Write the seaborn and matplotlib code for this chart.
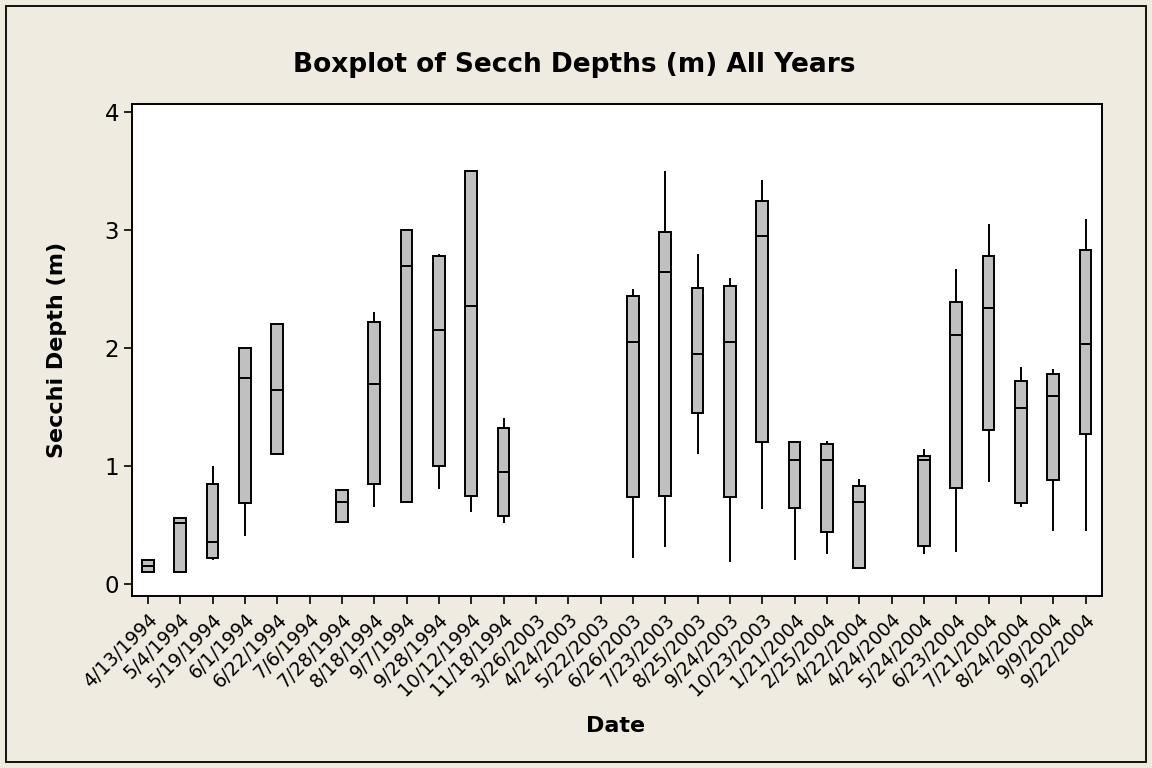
import numpy as np
import pandas as pd
import matplotlib
matplotlib.use("Agg")
import matplotlib.pyplot as plt
import seaborn as sns

# Secchi depth summaries (None = no data that day)
dates = ["4/13/1994", "5/4/1994", "5/19/1994", "6/1/1994", "6/22/1994", "7/6/1994",
         "7/28/1994", "8/18/1994", "9/7/1994", "9/28/1994", "10/12/1994", "11/18/1994",
         "3/26/2003", "4/24/2003", "5/22/2003", "6/26/2003", "7/23/2003", "8/25/2003",
         "9/24/2003", "10/23/2003", "1/21/2004", "2/25/2004", "4/22/2004", "4/24/2004",
         "5/24/2004", "6/23/2004", "7/21/2004", "8/24/2004", "9/9/2004", "9/22/2004"]
lo = [0.10, 0.10, 0.20, 0.40, 1.10, None, 0.51, 0.65, 0.69, 0.80, 0.61, 0.51,
      None, None, None, 0.22, 0.31, 1.10, 0.18, 0.63, 0.20, 0.25, 0.13, None,
      0.25, 0.27, 0.86, 0.65, 0.45, 0.45]
q1 = [0.10, 0.10, 0.215, 0.68, 1.10, None, 0.52, 0.845, 0.69, 1.00, 0.74, 0.57,
      None, None, None, 0.73, 0.74, 1.45, 0.73, 1.20, 0.645, 0.44, 0.13, None,
      0.32, 0.81, 1.30, 0.68, 0.88, 1.27]
med = [0.15, 0.51, 0.35, 1.74, 1.64, None, 0.69, 1.69, 2.69, 2.15, 2.35, 0.95,
       None, None, None, 2.05, 2.64, 1.945, 2.05, 2.95, 1.05, 1.05, 0.69, None,
       1.05, 2.11, 2.34, 1.49, 1.59, 2.03]
q3 = [0.20, 0.56, 0.845, 2.00, 2.20, None, 0.79, 2.22, 3.00, 2.78, 3.50, 1.32,
      None, None, None, 2.44, 2.98, 2.505, 2.52, 3.24, 1.20, 1.18, 0.825, None,
      1.08, 2.39, 2.78, 1.72, 1.775, 2.83]
hi = [0.20, 0.56, 1.00, 2.00, 2.20, None, 0.80, 2.30, 3.00, 2.79, 3.50, 1.40,
      None, None, None, 2.50, 3.50, 2.79, 2.59, 3.42, 1.20, 1.21, 0.89, None,
      1.145, 2.67, 3.05, 1.84, 1.82, 3.09]

# five points per date give exactly these quartiles/extremes
rows = []
for d, a, b, c, e, f in zip(dates, lo, q1, med, q3, hi):
    if a is None:
        continue
    for v in (a, b, c, e, f):
        rows.append({"date": d, "depth": v})
df = pd.DataFrame(rows)

bg = "#EFEBE1"
sns.set_style("ticks")
plt.rcParams["font.family"] = ["DejaVu Sans"]
plt.rcParams.update({"text.color": "black", "axes.labelcolor": "black",
                     "xtick.color": "black", "ytick.color": "black"})

fig = plt.figure(figsize=(11.52, 7.68), dpi=100, facecolor=bg)
ax = fig.add_axes([131.7 / 1152, 1 - 596 / 768, (1101.7 - 131.7) / 1152, (596 - 104) / 768])
ax.set_facecolor("white")

sns.boxplot(data=df, x="date", y="depth", order=dates, ax=ax, width=0.36,
            color="#C0C0C0", saturation=1, linecolor="black", linewidth=1.4,
            whis=(0, 100), showcaps=False, fliersize=0)

ax.set_xlim(-0.5, len(dates) - 0.5)
ax.set_ylim(-0.105, 4.065)
ax.set_yticks([0, 1, 2, 3, 4])
ax.set_xlabel("")
ax.set_ylabel("")
for s in ax.spines.values():
    s.set_linewidth(1.4)
    s.set_color("black")
ax.tick_params(axis="both", direction="out", length=6, width=1.2, color="black")
ax.tick_params(axis="y", labelsize=16.5, pad=3)
ax.tick_params(axis="x", labelsize=13.5, pad=4)
plt.setp(ax.get_xticklabels(), rotation=45, ha="right", rotation_mode="anchor")

fig.text(0.4987, 1 - 72 / 768, "Boxplot of Secch Depths (m) All Years",
         ha="center", va="baseline", fontsize=19, fontweight="bold")
fig.text(57 / 1152, 1 - 350 / 768, "Secchi Depth (m)", rotation=90,
         ha="center", va="center", fontsize=16, fontweight="bold")
fig.text(616 / 1152, 1 - 726 / 768, "Date", ha="center", va="center",
         fontsize=16, fontweight="bold")

# thin frame around the whole graph window
fig.patches.append(plt.Rectangle((6 / 1152, 6 / 768), 1140 / 1152, 756 / 768,
                                 transform=fig.transFigure, fill=False,
                                 edgecolor="black", linewidth=1.3))

fig.savefig("out.png", dpi=100, facecolor=bg)
